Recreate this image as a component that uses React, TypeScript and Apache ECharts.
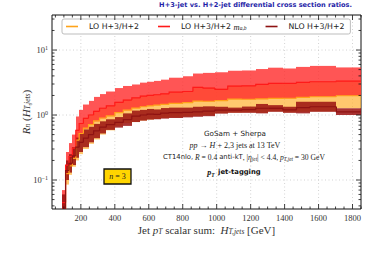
import React, { useEffect, useRef } from 'react';
import * as echarts from 'echarts';

// bin edges of the histogram (GeV)
const binEdges = [90, 110, 130, 150, 170, 190, 215, 245, 275, 310, 350, 400, 450, 500, 550, 590, 630, 670, 720, 800, 860, 920, 990, 1065, 1150, 1230, 1305, 1390, 1470, 1550, 1705, 1850];

// LO H+3/H+2
const loCentral = [0.032, 0.125, 0.165, 0.215, 0.41, 0.52, 0.63, 0.71, 0.81, 0.9, 0.97, 1.09, 1.19, 1.28, 1.34, 1.38, 1.42, 1.46, 1.51, 1.55, 1.64, 1.63, 1.66, 1.76, 1.75, 1.77, 1.8, 1.81, 1.87, 1.91, 1.98];
const loLower = [0.02, 0.085, 0.12, 0.16, 0.2, 0.25, 0.3, 0.36, 0.42, 0.5, 0.58, 0.68, 0.75, 0.78, 0.82, 0.85, 0.87, 0.9, 0.92, 0.95, 0.97, 0.99, 1.07, 1.09, 1.1, 1.08, 1.14, 1.1, 1.12, 1.14, 1.27];
const loUpper = [0.046, 0.175, 0.235, 0.32, 0.6, 0.76, 0.91, 1.03, 1.17, 1.3, 1.42, 1.6, 1.74, 1.88, 2.0, 2.05, 2.1, 2.18, 2.3, 2.36, 2.72, 2.66, 2.55, 2.85, 2.86, 3.02, 3.13, 3.12, 3.24, 3.3, 3.4];

// LO H+3/H+2 m_{a,b}
const mabCentral = [0.045, 0.17, 0.23, 0.31, 0.58, 0.74, 0.89, 1.0, 1.14, 1.27, 1.38, 1.56, 1.7, 1.83, 1.95, 2.0, 2.05, 2.12, 2.25, 2.3, 2.67, 2.6, 2.48, 2.79, 2.8, 2.96, 3.07, 3.07, 3.18, 3.25, 3.33];
const mabLower = [0.031, 0.12, 0.16, 0.21, 0.4, 0.51, 0.62, 0.7, 0.8, 0.89, 0.96, 1.08, 1.18, 1.28, 1.34, 1.38, 1.42, 1.45, 1.5, 1.55, 1.64, 1.62, 1.66, 1.76, 1.74, 1.76, 1.8, 1.8, 1.87, 1.91, 1.98];
const mabUpper = [0.07, 0.27, 0.37, 0.5, 0.95, 1.2, 1.45, 1.65, 1.9, 2.1, 2.3, 2.6, 2.8, 2.95, 3.15, 3.25, 3.35, 3.5, 3.75, 3.95, 4.35, 4.45, 4.55, 4.8, 4.85, 5.1, 5.35, 5.2, 5.5, 5.7, 5.4];

// NLO H+3/H+2
const nloCentral = [0.035, 0.14, 0.18, 0.235, 0.32, 0.38, 0.44, 0.5, 0.57, 0.65, 0.71, 0.77, 0.85, 0.96, 1.0, 1.03, 1.02, 1.07, 1.09, 1.1, 1.12, 1.15, 1.19, 1.19, 1.21, 1.27, 1.27, 1.2, 1.3, 1.34, 1.12];
const nloLower = [0.02, 0.1, 0.13, 0.17, 0.22, 0.27, 0.32, 0.38, 0.44, 0.52, 0.59, 0.64, 0.68, 0.78, 0.82, 0.85, 0.86, 0.88, 0.9, 0.92, 0.94, 0.96, 1.05, 1.08, 1.08, 1.06, 1.12, 1.08, 1.06, 1.12, 1.0];
const nloUpper = [0.06, 0.2, 0.25, 0.32, 0.45, 0.52, 0.6, 0.66, 0.73, 0.8, 0.86, 0.93, 1.06, 1.17, 1.2, 1.24, 1.22, 1.28, 1.3, 1.3, 1.34, 1.36, 1.34, 1.3, 1.35, 1.48, 1.42, 1.34, 1.6, 1.6, 1.27];

const xTickLabels = [200, 400, 600, 800, 1000, 1200, 1400, 1600, 1800];
const xMinorStep = 50;
const yDecades = [0.01, 0.1, 1, 10];
const xRange = [30, 1850];
const yRange = [0.0358, 34.6];

const LO_NAME = 'LO H+3/H+2';
const MAB_NAME = 'LO H+3/H+2 m_{a,b}';
const NLO_NAME = 'NLO H+3/H+2';

const SERIF = 'Liberation Serif';
const SANS = 'DejaVu Sans';

function bandData(lo: number[], hi: number[]) {
  return lo.map((l, i) => [binEdges[i], binEdges[i + 1], l, hi[i]]);
}
function stepData(c: number[]) {
  return c.map((v, i) => [binEdges[i], binEdges[i + 1], v, i > 0 ? c[i - 1] : v]);
}

function bandSeries(id: string, lo: number[], hi: number[], fill: string, z: number) {
  return {
    type: 'custom',
    id,
    silent: true,
    clip: true,
    z,
    data: bandData(lo, hi),
    encode: { x: [0, 1], y: [2, 3] },
    renderItem: (params: any, api: any) => {
      const a = api.coord([api.value(0), api.value(3)]);
      const b = api.coord([api.value(1), api.value(2)]);
      const x0 = Math.round(a[0]);
      const x1 = Math.round(b[0]);
      return {
        type: 'rect',
        shape: { x: x0, y: a[1], width: x1 - x0, height: b[1] - a[1] },
        style: { fill },
      };
    },
  };
}

function lineSeries(name: string, c: number[], color: string, z: number) {
  return {
    type: 'custom',
    name,
    silent: true,
    clip: true,
    z,
    itemStyle: { color },
    data: stepData(c),
    encode: { x: [0, 1], y: [2, 3] },
    renderItem: (params: any, api: any) => {
      const p0 = api.coord([api.value(0), api.value(3)]);
      const p1 = api.coord([api.value(0), api.value(2)]);
      const p2 = api.coord([api.value(1), api.value(2)]);
      return {
        type: 'polyline',
        shape: { points: [p0, p1, p2] },
        style: { stroke: color, lineWidth: 1.2, fill: 'none' },
      };
    },
  };
}

function buildTickData() {
  const d: number[][] = [];
  for (let v = xMinorStep; v <= xRange[1]; v += xMinorStep) {
    if (v <= xRange[0]) continue;
    d.push([v, 1, v % 200 === 0 ? 1 : 0]);
  }
  yDecades.forEach((dec) => {
    for (let k = 1; k <= 9; k++) {
      const v = dec * k;
      if (v >= yRange[0] && v <= yRange[1]) d.push([100, v, k === 1 ? 3 : 2]);
    }
  });
  return d;
}

function buildGridData() {
  const d: number[][] = [];
  xTickLabels.forEach((v) => d.push([v, 1, 0]));
  yDecades.forEach((v) => {
    if (v >= yRange[0] && v <= yRange[1]) d.push([100, v, 1]);
  });
  return d;
}

export default function App() {
  const ref = useRef<HTMLDivElement>(null);
  useEffect(() => {
    if (!ref.current) return;
    const chart = echarts.init(ref.current, undefined, { renderer: 'svg' });

    const tickSeries = {
      type: 'custom',
      silent: true,
      clip: false,
      z: 10,
      data: buildTickData(),
      encode: { x: 0, y: 1 },
      renderItem: (params: any, api: any) => {
        const cs = params.coordSys;
        const kind = api.value(2);
        const st = { stroke: '#111', lineWidth: 0.8 };
        if (kind < 2) {
          const px = api.coord([api.value(0), 1])[0];
          const len = kind === 1 ? 5 : 2.5;
          return {
            type: 'group',
            children: [
              { type: 'line', shape: { x1: px, y1: cs.y + cs.height, x2: px, y2: cs.y + cs.height - len }, style: st },
              { type: 'line', shape: { x1: px, y1: cs.y, x2: px, y2: cs.y + len }, style: st },
            ],
          };
        }
        const py = api.coord([100, api.value(1)])[1];
        const len = kind === 3 ? 5 : 2.5;
        return {
          type: 'group',
          children: [
            { type: 'line', shape: { x1: cs.x, y1: py, x2: cs.x + len, y2: py }, style: st },
            { type: 'line', shape: { x1: cs.x + cs.width, y1: py, x2: cs.x + cs.width - len, y2: py }, style: st },
          ],
        };
      },
    };

    const gridSeries = {
      type: 'custom',
      silent: true,
      clip: false,
      z: 1,
      data: buildGridData(),
      encode: { x: 0, y: 1 },
      renderItem: (params: any, api: any) => {
        const cs = params.coordSys;
        const st = { stroke: '#c8c8c8', lineWidth: 0.8, lineDash: [1, 2.5] };
        if (api.value(2) === 0) {
          const px = api.coord([api.value(0), 1])[0];
          return { type: 'line', shape: { x1: px, y1: cs.y, x2: px, y2: cs.y + cs.height }, style: st };
        }
        const py = api.coord([100, api.value(1)])[1];
        return { type: 'line', shape: { x1: cs.x, y1: py, x2: cs.x + cs.width, y2: py }, style: st };
      },
    };

    const axisNameRich = {
      t: { fontFamily: SERIF, fontSize: 11, color: '#333' },
      i: { fontFamily: SERIF, fontStyle: 'italic', fontSize: 11, color: '#333' },
      b: { fontFamily: SERIF, fontStyle: 'italic', fontSize: 7.5, color: '#333', verticalAlign: 'bottom' },
    };

    const option: any = {
      animation: false,
      backgroundColor: '#fff',
      title: {
        text: 'H+3-jet vs. H+2-jet differential cross section ratios.',
        right: 22,
        top: 1,
        textStyle: { fontFamily: SANS, fontSize: 6.6, fontWeight: 'bold', color: '#1f1fa8' },
        padding: 0,
      },
      grid: {
        left: 52,
        top: 15,
        width: 309,
        height: 194,
        show: true,
        borderColor: '#111',
        borderWidth: 1,
        backgroundColor: 'transparent',
      },
      legend: {
        left: 62,
        top: 19,
        data: [LO_NAME, MAB_NAME, NLO_NAME],
        icon: 'rect',
        itemWidth: 12,
        itemHeight: 1.6,
        itemGap: 19,
        selectedMode: false,
        backgroundColor: '#fff',
        borderColor: '#bdbdbd',
        borderWidth: 1,
        borderRadius: 2,
        padding: [3, 6, 3, 4],
        formatter: (name: string) => (name === MAB_NAME ? '{t|LO H+3/H+2 }{m|m}{s|a,b}' : name),
        textStyle: {
          fontFamily: SANS,
          fontSize: 7.8,
          color: '#222',
          padding: [0, 0, 0, 6],
          rich: {
            t: { fontFamily: SANS, fontSize: 7.8, color: '#222' },
            m: { fontFamily: SERIF, fontStyle: 'italic', fontSize: 8.5, color: '#222' },
            s: { fontFamily: SERIF, fontStyle: 'italic', fontSize: 5.5, color: '#222', verticalAlign: 'bottom' },
          },
        },
      },
      xAxis: {
        type: 'value',
        min: xRange[0],
        max: xRange[1],
        axisLine: { show: false },
        axisTick: { show: false },
        splitLine: { show: false },
        axisLabel: {
          customValues: xTickLabels,
          formatter: (v: number) => String(v),
          fontFamily: SERIF,
          fontSize: 8.5,
          color: '#333',
          margin: 4,
        },
        name: '{t|Jet }{i|p}{b|T}{t| scalar sum:  }{i|H}{b|T,jets}{t| [GeV]}',
        nameLocation: 'middle',
        nameGap: 15,
        nameMoveOverlap: false,
        nameTextStyle: { rich: axisNameRich },
      },
      yAxis: {
        type: 'log',
        logBase: 10,
        min: yRange[0],
        max: yRange[1],
        axisLine: { show: false },
        axisTick: { show: false },
        splitLine: { show: false },
        axisLabel: {
          margin: 4,
          formatter: (v: number) => {
            const l = Math.log10(v);
            const e = Math.round(l);
            if (Math.abs(l - e) > 1e-4) return '';
            return '{b|10}{s|' + (e < 0 ? '\u2212' + -e : String(e)) + '}';
          },
          rich: {
            b: { fontFamily: SERIF, fontSize: 8.5, color: '#333', lineHeight: 11 },
            s: { fontFamily: SERIF, fontSize: 6, color: '#333', verticalAlign: 'top' },
          },
        },
        name: '{i|R}{b|n}{t| (}{i|H}{b|T,jets}{t|)}',
        nameLocation: 'middle',
        nameGap: 21,
        nameMoveOverlap: false,
        nameRotate: 90,
        nameTextStyle: { rich: axisNameRich },
      },
      series: [
        gridSeries,
        bandSeries('loBand', loLower, loUpper, 'rgba(255,176,48,0.7)', 2),
        bandSeries('mabBand', mabLower, mabUpper, 'rgba(255,42,42,0.8)', 3),
        bandSeries('nloBand', nloLower, nloUpper, 'rgba(154,16,16,0.85)', 4),
        lineSeries(LO_NAME, loCentral, '#ffa31a', 5),
        lineSeries(MAB_NAME, mabCentral, '#ff1a1a', 6),
        lineSeries(NLO_NAME, nloCentral, '#8e1212', 7),
        tickSeries,
      ],
      graphic: [
        {
          type: 'text',
          x: 235,
          y: 133,
          style: { text: 'GoSam + Sherpa', fontFamily: SANS, fontSize: 7.2, fill: '#222', align: 'center', verticalAlign: 'middle' },
          z: 20,
        },
        {
          type: 'text',
          x: 235,
          y: 145,
          style: {
            text: '{i|pp} \u2192 {i|H} + 2,3 jets at 13 TeV',
            fontFamily: SERIF,
            fontSize: 8,
            fill: '#222',
            align: 'center',
            verticalAlign: 'middle',
            rich: { i: { fontFamily: SERIF, fontStyle: 'italic', fontSize: 8, fill: '#222' } },
          },
          z: 20,
        },
        {
          type: 'text',
          x: 244,
          y: 157,
          style: {
            text: '{s|CT14nlo,} {i|R} = 0.4 {s|anti-kT}, |{i|\u03b7}{b|jet}| < 4.4, {i|p}{b|T,jet} = 30 GeV',
            fontFamily: SERIF,
            fontSize: 7.6,
            fill: '#222',
            align: 'center',
            verticalAlign: 'middle',
            rich: {
              s: { fontFamily: SANS, fontSize: 6.8, fill: '#222' },
              i: { fontFamily: SERIF, fontStyle: 'italic', fontSize: 7.6, fill: '#222' },
              b: { fontFamily: SERIF, fontStyle: 'italic', fontSize: 5.3, fill: '#222', verticalAlign: 'bottom' },
            },
          },
          z: 20,
        },
        {
          type: 'text',
          x: 234,
          y: 172,
          style: {
            text: '{i|p}{b|T} {s|jet-tagging}',
            align: 'center',
            verticalAlign: 'middle',
            rich: {
              i: { fontFamily: SERIF, fontStyle: 'italic', fontWeight: 'bold', fontSize: 8, fill: '#111' },
              b: { fontFamily: SERIF, fontStyle: 'italic', fontWeight: 'bold', fontSize: 5.5, fill: '#111', verticalAlign: 'bottom' },
              s: { fontFamily: SANS, fontWeight: 'bold', fontSize: 6.8, fill: '#111' },
            },
          },
          z: 20,
        },
        {
          type: 'rect',
          x: 104,
          y: 169,
          shape: { width: 27, height: 15 },
          style: { fill: '#ffd500', stroke: '#111', lineWidth: 1.3 },
          z: 20,
        },
        {
          type: 'text',
          x: 117.5,
          y: 176.5,
          style: {
            text: '{i|n} = 3',
            fontFamily: SERIF,
            fontSize: 8,
            fill: '#222',
            align: 'center',
            verticalAlign: 'middle',
            rich: { i: { fontFamily: SERIF, fontStyle: 'italic', fontSize: 8, fill: '#222' } },
          },
          z: 21,
        },
      ],
    };
    chart.setOption(option);
    return () => chart.dispose();
  }, []);
  return <div ref={ref} style={{ position: 'fixed', left: 0, top: 0, width: 374, height: 253 }} />;
}
